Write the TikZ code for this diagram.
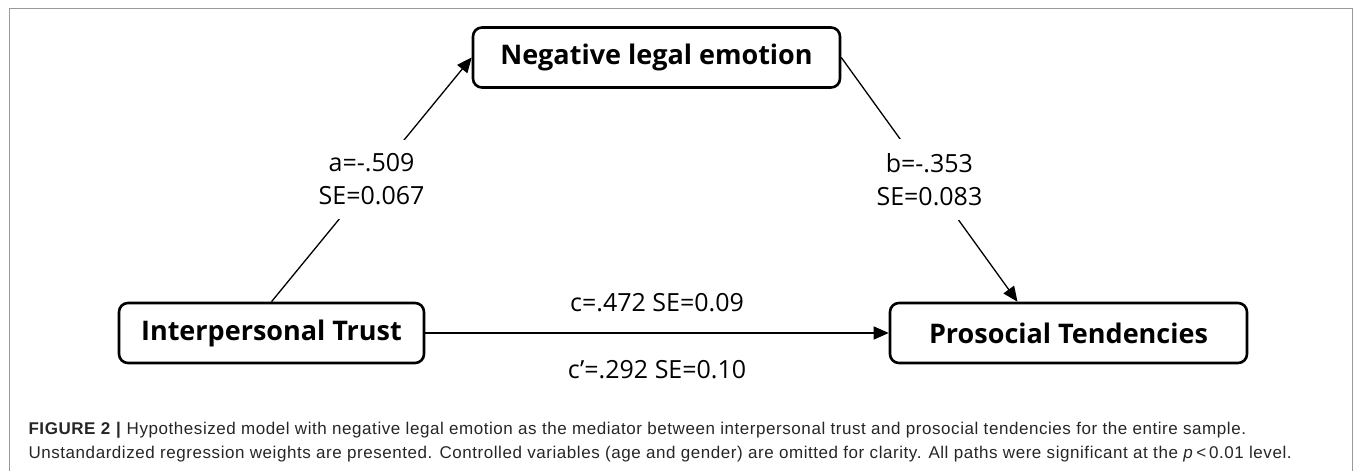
\documentclass[tikz,border=0pt]{standalone}
\usepackage{fontspec}
\setmainfont{Open Sans}
\newfontfamily\capfont[LetterSpace=3.3]{Liberation Sans}
\usetikzlibrary{arrows.meta}

\begin{document}
\begin{tikzpicture}
    \tikzset{x=1pt, y=1pt}
    \tikzstyle{var}=[rectangle, draw, line width=2.6pt, rounded corners=9pt, minimum height=60pt, font=\fontsize{27}{33}\selectfont\bfseries]
    \tikzstyle{coef}=[fill=white, align=center, inner xsep=6pt, inner ysep=14pt, font=\fontsize{25}{33}\selectfont]
    \tikzstyle{effect}=[line width=1.3pt, -{Triangle[length=15pt, width=13pt]}]

    \useasboundingbox (0,0) rectangle (1357,471);
    \draw[black!40, line width=1pt] (9,0) -- (9,462) -- (1352,462) -- (1352,0);

    \draw (656.5, 413.5)    node[var, minimum width=367pt]  (neg)   {Negative legal emotion};
    \draw (271.5, 138.0)    node[var, minimum width=305pt]  (trust) {Interpersonal Trust};
    \draw (1068.5, 138.0)   node[var, minimum width=357pt]  (pro)   {Prosocial Tendencies};

    \draw [effect]  (trust.north) -- node[coef] (a) {a=-.509\\SE=0.067} (neg.west);
    \draw [effect]  (neg.east) -- node[coef] (b) {b=-.353\\SE=0.083} ([xshift=-51pt]pro.north);
    \draw [effect]  (trust) -- node[font=\fontsize{25}{30}\selectfont, yshift=30pt] (c) {c=.472 SE=0.09}
                    node[font=\fontsize{25}{30}\selectfont, yshift=-37pt] (cp) {c’=.292 SE=0.10} (pro);

    \draw (25, 29)  node[anchor=west, align=left, text=black!85, font=\capfont\fontsize{17}{24}\selectfont] (caption)
        {\textbf{FIGURE 2} \textbf{|} Hypothesized model with negative legal emotion as the mediator between interpersonal trust and prosocial tendencies for the entire sample.\\
         Unstandardized regression weights are presented. Controlled variables (age and gender) are omitted for clarity. All paths were significant at the \textit{p}\,<\,0.01 level.};
\end{tikzpicture}
\end{document}
